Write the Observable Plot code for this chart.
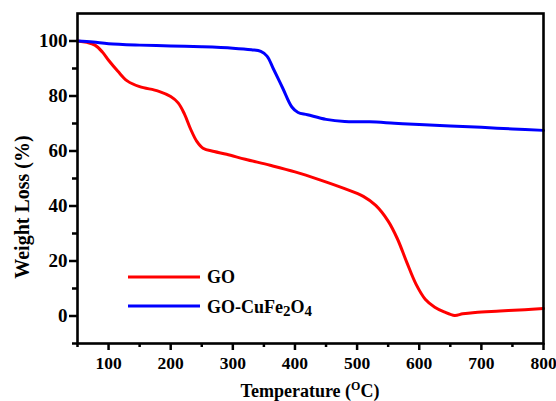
<!DOCTYPE html>
<html><head><meta charset="utf-8">
<script src="https://cdn.jsdelivr.net/npm/d3@7"></script>
<script src="https://cdn.jsdelivr.net/npm/@observablehq/plot@0.6"></script>
<style>
html,body{margin:0;padding:0;background:#fff;}
#chart{position:relative;width:556px;height:401px;}
svg text{font-family:"Liberation Serif","Times New Roman",serif;font-weight:bold;fill:#000;}
</style></head><body><div id="chart"></div>
<script>
// GO (red)
const goTemp   = [50, 65, 78, 90, 100, 115, 130, 150, 180, 200, 212, 222, 232, 242, 252, 270, 290, 320, 360, 400, 440, 480, 510, 530, 550, 565, 580, 595, 610, 625, 640, 657, 670, 690, 730, 770, 800];
const goWeight = [100, 99.5, 98.5, 96, 93, 89, 85.5, 83.4, 81.8, 79.8, 77.5, 73.5, 68, 63.5, 61, 59.8, 58.8, 57, 54.8, 52.4, 49.5, 46.3, 43.5, 40.2, 34.5, 28, 19.5, 11.5, 6, 3.2, 1.5, 0.2, 0.8, 1.3, 1.8, 2.3, 2.7];
// GO-CuFe2O4 (blue)
const cfTemp   = [50, 75, 100, 150, 200, 250, 300, 330, 345, 355, 365, 380, 395, 405, 420, 450, 480, 520, 560, 600, 650, 700, 750, 800];
const cfWeight = [100, 99.6, 99.0, 98.5, 98.2, 97.9, 97.4, 96.8, 96.2, 94.5, 90, 83, 76, 74, 73.2, 71.5, 70.7, 70.6, 70.1, 69.6, 69.1, 68.6, 68.0, 67.5];

const seriesNames  = ["GO", "GO-CuFe2O4"];
const seriesColors = ["#ff0000", "#0000ff"];

const xTicks      = [100, 200, 300, 400, 500, 600, 700, 800];
const xMinorTicks = [50, 150, 250, 350, 450, 550, 650, 750];
const yTicks      = [0, 20, 40, 60, 80, 100];
const yMinorTicks = [-10, 10, 30, 50, 70, 90];
const xTitle = "Temperature (";
const yTitle = "Weight Loss (%)";

const data = [
  ...goTemp.map((t, i) => ({T: t, W: goWeight[i], s: seriesNames[0]})),
  ...cfTemp.map((t, i) => ({T: t, W: cfWeight[i], s: seriesNames[1]}))
];

const W = 556, H = 401;
const plot = Plot.plot({
  width: W, height: H,
  marginLeft: 77, marginRight: 13, marginTop: 13, marginBottom: 58,
  style: {fontFamily: "Liberation Serif, Times New Roman, serif", fontWeight: "bold", background: "#fff", color: "#000"},
  x: {domain: [50, 800]},
  y: {domain: [-10, 110]},
  color: {domain: seriesNames, range: seriesColors},
  marks: [
    Plot.line(data, {x: "T", y: "W", z: "s", stroke: "s", strokeWidth: 3, curve: "catmull-rom"}),
    Plot.axisX({ticks: xTicks, tickSize: 7, tickPadding: 6, fontSize: 17.5, fontWeight: "bold", strokeWidth: 2.5, label: null, tickFormat: d => d}),
    Plot.axisX({ticks: xMinorTicks, tickSize: 4, strokeWidth: 2.5, text: null, label: null}),
    Plot.axisY({ticks: yTicks, tickSize: 8, tickPadding: 2, fontSize: 19, fontWeight: "bold", strokeWidth: 2.5, label: null}),
    Plot.axisY({ticks: yMinorTicks, tickSize: 5, strokeWidth: 2.5, text: null, label: null}),
    Plot.frame({stroke: "#000", strokeWidth: 2.6})
  ]
});
document.getElementById("chart").appendChild(plot);

const svg = d3.select(plot);
// x axis title with superscript
const xt = svg.append("text").attr("x", 310).attr("y", 397).attr("text-anchor", "middle").style("font-size", "18px");
xt.append("tspan").text(xTitle);
xt.append("tspan").attr("dy", -7).style("font-size", "12px").text("O");
xt.append("tspan").attr("dy", 7).text("C)");
// y axis title
svg.append("text").attr("transform", "translate(29,207) rotate(-90)").attr("text-anchor", "middle").style("font-size", "20px").text(yTitle);

// legend
const leg = svg.append("g").attr("text-anchor", "start");
const rows = [{y: 277, ty: 283}, {y: 306, ty: 313}];
seriesNames.forEach((n, i) => {
  leg.append("line").attr("x1", 128).attr("x2", 200).attr("y1", rows[i].y).attr("y2", rows[i].y)
    .attr("stroke", seriesColors[i]).attr("stroke-width", 3);
  const t = leg.append("text").attr("x", 207).attr("y", rows[i].ty).attr("text-anchor", "start").style("font-size", "18px");
  if (i === 0) t.text(n);
  else {
    t.append("tspan").text("GO-CuFe");
    t.append("tspan").attr("dy", 3).style("font-size", "15px").text("2");
    t.append("tspan").attr("dy", -3).text("O");
    t.append("tspan").attr("dy", 3).style("font-size", "15px").text("4");
  }
});
</script></body></html>
